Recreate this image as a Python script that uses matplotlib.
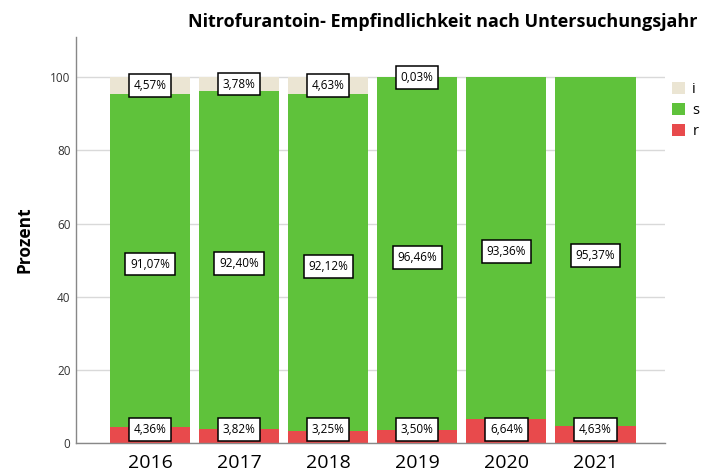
import matplotlib.pyplot as plt
import numpy as np
from matplotlib.patches import Patch

years = ["2016", "2017", "2018", "2019", "2020", "2021"]
pct_r = [4.36, 3.82, 3.25, 3.50, 6.64, 4.63]
pct_s = [91.07, 92.40, 92.12, 96.46, 93.36, 95.37]
pct_i = [4.57, 3.78, 4.63, 0.03, 0.0, 0.0]

COLORS = {"i": "#ebe5d3", "s": "#5fc23b", "r": "#e84a4c"}

plt.rcParams["font.family"] = ["Open Sans", "DejaVu Sans"]


def fmt(v):
    return f"{v:.2f}%".replace(".", ",")


fig = plt.figure(figsize=(7.02, 4.73), dpi=100)
ax = fig.add_axes([76 / 702, 30 / 473, 589 / 702, 406 / 473])

x = np.arange(len(years))
r = np.array(pct_r)
s = np.array(pct_s)
i = np.array(pct_i)

ax.bar(x, r, width=0.9, color=COLORS["r"], zorder=2)
ax.bar(x, s, width=0.9, bottom=r, color=COLORS["s"], zorder=2)
ax.bar(x, i, width=0.9, bottom=r + s, color=COLORS["i"], zorder=2)

# value boxes sit at segment centres; the bottom ones are kept clear of the axis
box = dict(boxstyle="square,pad=0.4", facecolor="white", edgecolor="black", linewidth=1.1)
lbl = dict(ha="center", va="center", fontsize=8.5, bbox=box, zorder=4)
for k in range(len(years)):
    ax.text(x[k], max(r[k] / 2, 3.7), fmt(r[k]), **lbl)
    ax.text(x[k], r[k] + s[k] / 2 - 1.0, fmt(s[k]), **lbl)
    if i[k] > 0:
        ax.text(x[k], r[k] + s[k] + i[k] / 2, fmt(i[k]), **lbl)

ax.set_xlim(-0.83, 5.78)
ax.set_ylim(0, 111)
ax.set_yticks([0, 20, 40, 60, 80, 100])
ax.yaxis.grid(True, color="#d9d9d9", linewidth=1.0, zorder=0)
ax.set_axisbelow(True)
ax.set_xticks(x)
ax.set_xticklabels(years, fontsize=14)
ax.tick_params(axis="x", length=0, pad=8)
ax.tick_params(axis="y", length=0, labelsize=8.5, labelcolor="#333333", pad=4)
for side in ["top", "right"]:
    ax.spines[side].set_visible(False)
for side in ["left", "bottom"]:
    ax.spines[side].set_color("#888888")
    ax.spines[side].set_linewidth(1.0)

ax.set_ylabel("Prozent", fontsize=12.5, fontweight="bold", labelpad=12)
fig.text(697 / 702, 1 - 22 / 473, "Nitrofurantoin- Empfindlichkeit nach Untersuchungsjahr",
         ha="right", va="center", fontsize=13, fontweight="bold")

handles = [Patch(facecolor=COLORS[c], edgecolor="none") for c in ["i", "s", "r"]]
fig.legend(handles, ["i", "s", "r"], loc="upper left", bbox_to_anchor=(666 / 702, 1 - 76 / 473),
           frameon=False, fontsize=10.5, handlelength=0.9, handleheight=0.9,
           handletextpad=0.5, labelspacing=0.4, borderaxespad=0)

fig.savefig("out.png", dpi=100)
